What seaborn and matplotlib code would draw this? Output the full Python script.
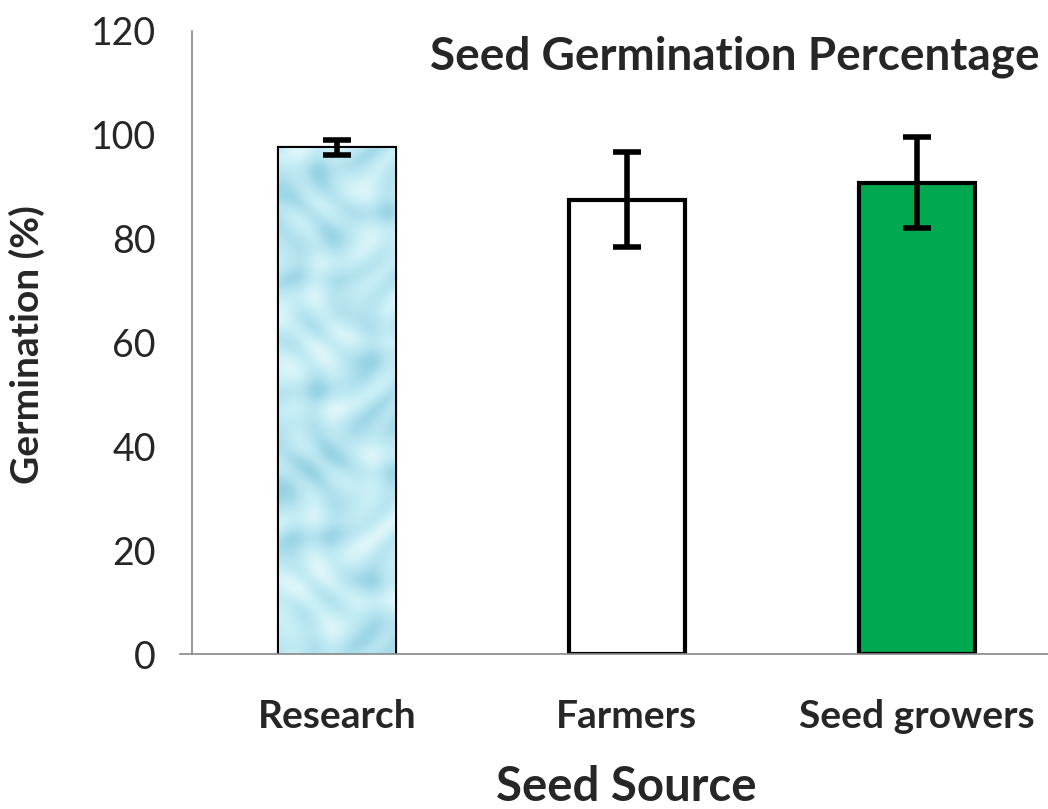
import numpy as np
import pandas as pd
import matplotlib
matplotlib.use("Agg")
import matplotlib.pyplot as plt
import seaborn as sns

sources = ["Research", "Farmers", "Seed growers"]
germination = [97.5, 87.5, 90.8]
err = [1.5, 9.2, 8.8]
bar_colors = ["#b4e2ee", "#ffffff", "#00a94f"]

df = pd.DataFrame({"Seed Source": sources, "Germination": germination})

sns.set_style("white")
plt.rcParams["font.family"] = ["Lato", "DejaVu Sans"]

fig = plt.figure(figsize=(10.48, 8.09), dpi=100)
ax = fig.add_axes([0.183, 0.191, 0.83, 0.771])

sns.barplot(data=df, x="Seed Source", y="Germination", hue="Seed Source",
            palette=bar_colors, saturation=1, width=0.4, edgecolor="black",
            linewidth=3, legend=False, ax=ax, errorbar=None)
ax.errorbar(np.arange(len(sources)), germination, yerr=err, fmt="none",
            ecolor="black", elinewidth=4, capsize=10, capthick=4, zorder=5)

# water-drop texture on the research bar (just a wavy pattern, clipped to the bar)
bar = ax.patches[0]
x0, w = bar.get_x(), bar.get_width()
yy, xx = np.mgrid[0:400, 0:60]
tex = (np.sin(xx / 7.0 + np.sin(yy / 16.0) * 2) * np.sin(yy / 11.0 + np.cos(xx / 12.0) * 2)
       + 0.4 * np.sin((xx + yy) / 9.0))
water = matplotlib.colors.LinearSegmentedColormap.from_list(
    "water", ["#96d2e2", "#b3e2ee", "#c6edf5", "#def6fa"])
im = ax.imshow(tex, extent=[x0, x0 + w, 0, germination[0]], aspect="auto",
               cmap=water, interpolation="bilinear", zorder=1.5)
im.set_clip_path(bar)

ax.set_xlim(-0.5, 2.5)
ax.set_ylim(0, 120)
ax.set_yticks(range(0, 121, 20))
ax.set_xticks([-0.5, 0.5, 1.5, 2.5], minor=True)
ax.tick_params(axis="x", which="major", length=0, pad=32, labelsize=28)
ax.tick_params(axis="x", which="minor", length=10, width=1, color="#888888", direction="out")
ax.tick_params(axis="y", length=12, width=1, color="#888888", labelsize=27, pad=14)
for lbl in ax.get_xticklabels():
    lbl.set_fontweight("bold")

for s in ["top", "right"]:
    ax.spines[s].set_visible(False)
for s in ["left", "bottom"]:
    ax.spines[s].set_color("#888888")
    ax.spines[s].set_linewidth(1.2)
ax.spines["bottom"].set_bounds(-0.54, 2.5)

ax.set_xlabel("Seed Source", fontsize=34, fontweight="bold")
ax.xaxis.set_label_coords(0.5, -0.212)
ax.xaxis.label.set_va("center")
ax.set_ylabel("Germination (%)", fontsize=28, fontweight="bold")
ax.yaxis.set_label_coords(-0.189, 0.497)
ax.yaxis.label.set_va("center")
fig.text(1040 / 1048, 1 - 57 / 809, "Seed Germination Percentage",
         ha="right", va="center", fontsize=33, fontweight="bold")

fig.savefig("out.png", dpi=100)
